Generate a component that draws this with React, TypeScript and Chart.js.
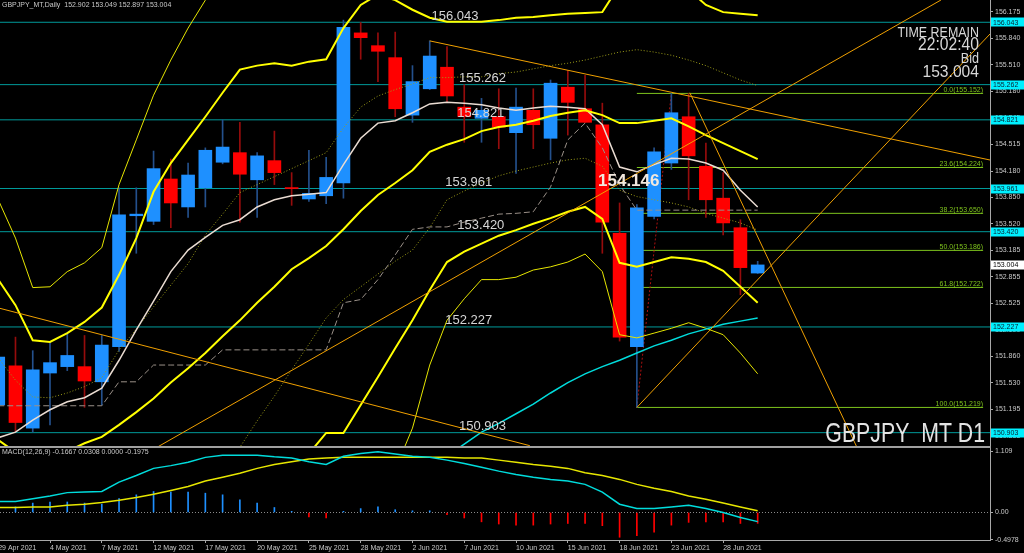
import React, { useEffect, useRef } from "react";
import { Chart, registerables } from "chart.js";

Chart.register(...registerables);

const FONT = '"Liberation Sans", Arial, sans-serif';

// ---- axis ranges (bar index / price) ----
const X_MIN = 0.103;
const X_MAX = 57.46;
const Y_MIN = 150.736;
const Y_MAX = 156.322;
const MACD_MIN = -0.5;
const MACD_MAX = 1.17;

// ---- x axis labels ----
const dateTickIdx = [0, 3, 6, 9, 12, 15, 18, 21, 24, 27, 30, 33, 36, 39, 42];
const dateLabels = [
  "29 Apr 2021", "4 May 2021", "7 May 2021", "12 May 2021", "17 May 2021",
  "20 May 2021", "25 May 2021", "28 May 2021", "2 Jun 2021", "7 Jun 2021",
  "10 Jun 2021", "15 Jun 2021", "18 Jun 2021", "23 Jun 2021", "28 Jun 2021",
];

// ---- price axis ticks ----
const priceTicks = [
  156.175, 155.84, 155.51, 155.18, 154.845, 154.515, 154.18, 153.85, 153.52,
  153.185, 152.855, 152.525, 152.19, 151.86, 151.53, 151.195, 150.865,
];

// ---- OHLC (29 Apr 2021 .. 30 Jun 2021) ----
const opens = [
  151.25, 151.74, 150.96, 151.65, 151.73, 151.73, 151.54, 151.98, 153.62, 153.55,
  154.08, 153.73, 153.97, 154.29, 154.41, 154.07, 154.31, 153.97, 153.83, 153.87,
  154.03, 155.91, 155.75, 155.6, 154.88, 155.21, 155.48, 154.98, 154.84, 154.86,
  154.66, 154.94, 154.59, 155.23, 154.96, 154.76, 153.4, 151.98, 153.61, 154.28,
  154.86, 154.24, 153.84, 153.47, 152.902,
];
const highs = [
  151.95, 152.1, 151.93, 152.03, 152.15, 152.12, 152.12, 153.97, 153.97, 154.43,
  154.33, 154.28, 154.47, 154.82, 154.79, 154.41, 154.68, 154.16, 154.44, 154.35,
  156.07, 156.04, 155.91, 155.92, 155.5, 155.81, 155.74, 155.26, 155.09, 155.21,
  155.22, 155.21, 155.32, 155.44, 155.38, 155.03, 153.78, 153.76, 154.47, 155.152,
  155.15, 154.53, 154.16, 153.57, 153.049,
];
const lows = [
  151.15, 150.92, 150.91, 151.0, 151.68, 151.22, 151.25, 151.92, 153.15, 153.51,
  153.47, 153.6, 153.73, 154.27, 153.54, 153.6, 154.01, 153.75, 153.8, 153.77,
  153.84, 155.58, 155.3, 154.86, 154.79, 155.2, 155.05, 154.54, 154.54, 154.46,
  154.15, 154.46, 154.32, 154.63, 154.79, 153.15, 152.05, 151.219, 153.58, 154.2,
  153.82, 153.6, 153.38, 152.63, 152.897,
];
const closes = [
  151.85, 151.03, 151.69, 151.78, 151.87, 151.55, 152.0, 153.63, 153.64, 154.21,
  153.78, 154.13, 154.44, 154.48, 154.14, 154.37, 154.16, 153.96, 153.9, 154.1,
  155.98, 155.85, 155.68, 154.96, 155.3, 155.62, 155.12, 154.86, 154.94, 154.73,
  154.98, 154.76, 155.28, 155.04, 154.79, 153.54, 152.1, 153.72, 154.42, 154.91,
  154.37, 153.82, 153.53, 152.97, 153.004,
];

// ---- Bollinger bands ----
const bbUpperOuter = [
  153.82, 153.34, 152.72, 152.73, 152.92, 153.03, 153.22, 154.01, 154.57, 155.13,
  155.57, 155.97, 156.32, 156.7, null, null, null, null, null, null,
  null, null, null, null, null, null, null, null, null, null,
  null, null, null, null, null, null, null, null, null, null,
  null, null, null, null, null,
];
const bbUpperInner = [
  152.82, 152.5, 152.06, 152.04, 152.15, 152.29, 152.47, 152.88, 153.34, 153.92,
  154.28, 154.57, 154.86, 155.16, 155.45, 155.5, 155.53, 155.5, 155.55, 155.58,
  155.97, 156.26, 156.39, 156.32, 156.2, 156.1, 156.05, 156.05, 156.05, 156.07,
  156.1, 156.11, 156.13, 156.15, 156.16, 156.17, 156.51, 156.57, 156.57, 156.57,
  156.45, 156.26, 156.17, 156.15, 156.13,
];
const bbMiddle = [
  150.81, 150.66, 150.59, 150.61, 150.67, 150.77, 150.85, 151.0, 151.16, 151.33,
  151.53, 151.71, 151.9, 152.11, 152.31, 152.53, 152.73, 152.95, 153.09, 153.24,
  153.45, 153.68, 153.88, 154.03, 154.19, 154.42, 154.51, 154.58, 154.68, 154.73,
  154.76, 154.81, 154.87, 154.91, 154.94, 154.88, 154.78, 154.78, 154.81, 154.84,
  154.74, 154.63, 154.53, 154.43, 154.33,
];
const bbLowerInner = [
  null, null, null, null, null, null, null, null, null, null,
  null, null, null, null, null, null, 149.9, 150.39, 150.64, 150.9,
  150.9, 151.25, 151.6, 151.96, 152.31, 152.69, 153.04, 153.17, 153.27, 153.37,
  153.44, 153.52, 153.59, 153.67, 153.73, 153.58, 153.03, 152.98, 153.04, 153.1,
  153.08, 153.04, 152.93, 152.73, 152.53,
];
const bbLowerOuter = [
  null, null, null, null, null, null, null, null, null, null,
  null, null, null, null, null, null, null, null, null, null,
  null, null, 149.9, 150.44, 150.96, 151.75, 152.31, 152.58, 152.82, 152.82,
  152.85, 152.94, 152.98, 153.04, 153.14, 152.92, 152.13, 152.09, 152.15, 152.21,
  152.28, 152.21, 152.13, 151.9, 151.64,
];

// ---- moving averages / other overlays ----
const maWhite = [
  150.84, 150.91, 151.06, 151.19, 151.29, 151.34, 151.46, 151.81, 152.19, 152.55,
  152.92, 153.19, 153.35, 153.5, 153.57, 153.73, 153.82, 153.87, 153.89, 153.91,
  154.26, 154.59, 154.78, 154.81, 154.91, 155.02, 155.04, 155.03, 155.01, 154.97,
  154.94, 154.97, 154.99, 154.98, 154.96, 154.76, 154.23, 154.17, 154.26, 154.34,
  154.33, 154.28, 154.19, 153.94, 153.73,
];
const maCyan = [
  null, null, null, null, null, null, null, null, null, null,
  null, null, null, null, null, null, null, null, null, null,
  null, null, null, null, null, null, 150.61, 150.76, 150.91, 151.02,
  151.14, 151.26, 151.4, 151.53, 151.64, 151.73, 151.81, 151.9, 151.99, 152.06,
  152.14, 152.2, 152.26, 152.3, 152.34,
];
const dottedFast = [
  151.84, 151.56, 151.35, 151.34, 151.4, 151.48, 151.59, 151.94, 152.2, 152.48,
  152.75, 153.02, 153.38, 153.64, 153.91, 154.01, 154.11, 154.21, 154.31, 154.41,
  154.72, 154.98, 155.12, 155.2, 155.27, 155.35, 155.35, 155.36, 155.36, 155.4,
  155.42, 155.46, 155.5, 155.53, 155.57, 155.62, 155.67, 155.7, 155.67, 155.63,
  155.57, 155.5, 155.41, 155.32, 155.25,
];
const dottedSlow = [
  null, null, null, null, null, null, null, null, null, null,
  null, null, null, 150.44, 150.72, 151.05, 151.36, 151.69, 152.01, 152.34,
  152.57, 152.73, 152.89, 153.05, 153.19, 153.47, 153.82, 153.93, 154.03, 154.12,
  154.18, 154.23, 154.28, 154.32, 154.34, 154.24, 153.94, 153.86, 153.82, 153.78,
  153.73, 153.65, 153.59, 153.53, 153.44,
];
const grayStep = [
  151.24, 151.24, 151.24, 151.24, 151.24, 151.24, 151.24, 151.54, 151.54, 151.75,
  151.75, 151.75, 151.75, 151.94, 151.94, 151.94, 151.94, 151.94, 151.94, 151.94,
  152.53, 152.57, 152.82, 153.13, 153.45, 153.48, 153.48, 153.54, 153.59, 153.64,
  153.65, 153.67, 153.98, 154.57, 154.78, 154.47, 154.01, 153.69, 153.69, 153.69,
  153.69, 153.69, 153.69, 153.69, 153.69,
];

// ---- horizontal levels ----
const levelPrices = [156.043, 155.262, 154.821, 153.961, 153.42, 152.227, 150.903];
const levelLabelBars = [25.1, 26.7, 26.6, 25.9, 26.6, 25.9, 26.7];
const bidPrice = 153.004;
const markPrice = 154.146;
const markBar = 34.75;

// ---- fibonacci ----
const fibLevels = [155.152, 154.224, 153.65, 153.186, 152.722, 151.219];
const fibNames = ["0.0", "23.6", "38.2", "50.0", "61.8", "100.0"];
const fibStartBar = 37;
const fibEndBar = 57.06;
const fibBaseX = [37, 39];
const fibBaseY = [151.219, 155.152];

// ---- trend lines (bar, price) ----
const trendX1 = [0.1, 9.2, 37, 25, 40.07];
const trendY1 = [152.46, 150.72, 151.219, 155.81, 155.16];
const trendX2 = [30.8, 54.62, 57.46, 57.46, 49.75];
const trendY2 = [150.74, 156.322, 155.896, 154.318, 150.72];

// ---- MACD ----
const macdLine = [
  0.2, 0.2, 0.25, 0.3, 0.36, 0.37, 0.38, 0.55, 0.67, 0.8,
  0.85, 0.91, 1.0, 1.04, 1.04, 1.04, 1.01, 0.99, 0.92, 0.87,
  1.02, 1.07, 1.1, 1.06, 1.02, 1.0, 0.95, 0.89, 0.82, 0.75,
  0.69, 0.64, 0.6, 0.57, 0.51, 0.37, 0.15, 0.07, 0.07, 0.1,
  0.13, 0.07, 0.0, -0.09, -0.1667,
];
const macdSignal = [
  0.09, 0.09, 0.1, 0.1, 0.13, 0.15, 0.18, 0.22, 0.27, 0.33,
  0.4, 0.47, 0.57, 0.64, 0.71, 0.8, 0.87, 0.92, 0.97, 0.99,
  1.0, 1.0, 1.0, 1.0, 1.0, 1.0, 1.0, 0.99, 0.99, 0.95,
  0.91, 0.87, 0.84, 0.8, 0.72, 0.67, 0.6, 0.51, 0.44, 0.38,
  0.3, 0.24, 0.17, 0.1, 0.0308,
];
const macdHist = [
  0.08, 0.1, 0.17, 0.19, 0.19, 0.17, 0.15, 0.25, 0.32, 0.38,
  0.37, 0.37, 0.35, 0.32, 0.23, 0.17, 0.09, 0.02, -0.08, -0.1,
  0.02, 0.07, 0.1, 0.05, 0.03, 0.03, -0.04, -0.1, -0.17, -0.21,
  -0.23, -0.23, -0.21, -0.2, -0.2, -0.24, -0.45, -0.42, -0.36, -0.23,
  -0.18, -0.17, -0.17, -0.2, -0.1975,
];
const macdTicks = [1.109, 0, -0.4978];
const macdTickLabels = ["1.109", "0.00", "-0.4978"];

// ---- colours ----
const BULL = "#1e90ff";
const BEAR = "#ff0000";
const BULL_WICK = "#24508c";
const BEAR_WICK = "#960c0c";
const LEVEL = "#009a9a";
const FIB = "#7ec31d";
const ORANGE = "#f0a000";
const AXIS = "#a8a8a8";
const TXT = "#c8c8c8";

const series = (arr: (number | null)[]) => arr.map((v, i) => ({ x: i, y: v }));

const lineDs = (data: any[], color: string, width: number, order: number, dash: number[] = []) => ({
  type: "line" as const,
  data,
  borderColor: color,
  borderWidth: width,
  borderDash: dash,
  pointRadius: 0,
  tension: 0,
  fill: false,
  spanGaps: false,
  order,
});

function drawScaledText(ctx: CanvasRenderingContext2D, text: string, xRight: number, yBase: number, font: string, sx: number, color: string) {
  ctx.save();
  ctx.font = font;
  ctx.fillStyle = color;
  ctx.textAlign = "right";
  ctx.textBaseline = "alphabetic";
  ctx.translate(xRight, yBase);
  ctx.scale(sx, 1);
  ctx.fillText(text, 0, 0);
  ctx.restore();
}

const mainOverlay = {
  id: "mainOverlay",
  afterDatasetsDraw(chart: any) {
    const { ctx } = chart;
    const xs = chart.scales.x;
    const ys = chart.scales.y;
    ctx.save();
    ctx.font = `13px ${FONT}`;
    ctx.fillStyle = "#d6d6d6";
    ctx.textAlign = "left";
    ctx.textBaseline = "alphabetic";
    levelPrices.forEach((p, k) => {
      ctx.fillText(p.toFixed(3), xs.getPixelForValue(levelLabelBars[k]), ys.getPixelForValue(p) - 2.5);
    });
    ctx.font = `7px ${FONT}`;
    ctx.fillStyle = FIB;
    ctx.textAlign = "right";
    fibLevels.forEach((p, k) => {
      ctx.fillText(`${fibNames[k]}(${p.toFixed(3)})`, xs.getPixelForValue(fibEndBar), ys.getPixelForValue(p) - 1.5);
    });
    ctx.font = `bold 17px ${FONT}`;
    ctx.fillStyle = "#f2e8de";
    ctx.textAlign = "left";
    ctx.textBaseline = "top";
    ctx.fillText(markPrice.toFixed(3), xs.getPixelForValue(markBar), ys.getPixelForValue(markPrice) - 1);
    ctx.restore();
  },
  afterDraw(chart: any) {
    const { ctx, chartArea } = chart;
    const ys = chart.scales.y;
    ctx.save();
    ctx.font = `7px ${FONT}`;
    ctx.textAlign = "left";
    ctx.textBaseline = "middle";
    levelPrices.forEach((p) => {
      const py = ys.getPixelForValue(p);
      ctx.fillStyle = "#00f0ff";
      ctx.fillRect(chartArea.right + 1, Math.round(py) - 4.5, 33, 9);
      ctx.fillStyle = "#0a2030";
      ctx.fillText(p.toFixed(3), chartArea.right + 3, py + 0.5);
    });
    const by = ys.getPixelForValue(bidPrice);
    ctx.fillStyle = "#ffffff";
    ctx.fillRect(chartArea.right + 1, Math.round(by) - 4.5, 33, 9);
    ctx.fillStyle = "#000000";
    ctx.fillText(bidPrice.toFixed(3), chartArea.right + 3, by + 0.5);

    ctx.font = `7px ${FONT}`;
    ctx.fillStyle = TXT;
    ctx.textAlign = "left";
    ctx.textBaseline = "top";
    ctx.fillText(
      `GBPJPY_MT,Daily  ${opens[44].toFixed(3)} ${highs[44].toFixed(3)} ${lows[44].toFixed(3)} ${closes[44].toFixed(3)}`,
      2, 2
    );
    ctx.restore();

    const rx = chartArea.right - 11;
    drawScaledText(ctx, "TIME REMAIN", rx, 37, `15px ${FONT}`, 0.83, "#d8d8d8");
    drawScaledText(ctx, "22:02:40", rx, 50, `18px ${FONT}`, 0.87, "#d8d8d8");
    drawScaledText(ctx, "Bid", rx, 63, `14px ${FONT}`, 0.9, "#d8d8d8");
    drawScaledText(ctx, bidPrice.toFixed(3), rx, 77, `17px ${FONT}`, 0.92, "#d8d8d8");
    drawScaledText(ctx, "GBPJPY_MT D1", chartArea.right - 5, 442, `28px ${FONT}`, 0.76, "#e4e4e4");
  },
};

const macdOverlay = {
  id: "macdOverlay",
  beforeDatasetsDraw(chart: any) {
    const { ctx, chartArea } = chart;
    const ys = chart.scales.y;
    ctx.save();
    ctx.strokeStyle = "#8a8a8a";
    ctx.lineWidth = 1;
    ctx.setLineDash([1, 2]);
    const zy = Math.round(ys.getPixelForValue(0)) + 0.5;
    ctx.beginPath();
    ctx.moveTo(chartArea.left, zy);
    ctx.lineTo(chartArea.right, zy);
    ctx.stroke();
    ctx.restore();
  },
  afterDraw(chart: any) {
    const { ctx, chartArea } = chart;
    ctx.save();
    ctx.fillStyle = "#a0a0a0";
    ctx.fillRect(0, 0, chartArea.right + 1, 2);
    ctx.font = `7px ${FONT}`;
    ctx.fillStyle = TXT;
    ctx.textAlign = "left";
    ctx.textBaseline = "top";
    ctx.fillText(
      `MACD(12,26,9) ${macdLine[44].toFixed(4)} ${macdSignal[44].toFixed(4)} 0.0000 ${macdHist[44].toFixed(4)}`,
      2, 3
    );
    ctx.restore();
  },
};

export default function App() {
  const mainRef = useRef<HTMLCanvasElement | null>(null);
  const macdRef = useRef<HTMLCanvasElement | null>(null);

  useEffect(() => {
    if (!mainRef.current || !macdRef.current) return;

    const levelDs = levelPrices.map((p) =>
      lineDs([{ x: X_MIN, y: p }, { x: X_MAX, y: p }], LEVEL, 1, 100)
    );
    const fibDs = fibLevels.map((p) =>
      lineDs([{ x: fibStartBar, y: p }, { x: fibEndBar, y: p }], FIB, 1, 99)
    );
    const fibBase = lineDs(
      [{ x: fibBaseX[0], y: fibBaseY[0] }, { x: fibBaseX[1], y: fibBaseY[1] }],
      "#b01010", 1, 98, [2, 2]
    );
    const trendDs = trendX1.map((x1, k) =>
      lineDs([{ x: x1, y: trendY1[k] }, { x: trendX2[k], y: trendY2[k] }], ORANGE, 1, 10)
    );

    const wicks = {
      type: "bar" as const,
      data: lows.map((l, i) => ({ x: i, y: [l, highs[i]] })),
      backgroundColor: closes.map((c, i) => (c >= opens[i] ? BULL_WICK : BEAR_WICK)),
      barThickness: 1,
      grouped: false,
      borderWidth: 0,
      order: 90,
    };
    const bodies = {
      type: "bar" as const,
      data: opens.map((o, i) => ({ x: i, y: [o, closes[i]] })),
      backgroundColor: closes.map((c, i) => (c >= opens[i] ? BULL : BEAR)),
      barThickness: 13,
      minBarLength: 1,
      grouped: false,
      borderWidth: 0,
      order: 89,
    };

    const xScale = {
      type: "linear",
      min: X_MIN,
      max: X_MAX,
      offset: false,
    };

    const mainChart = new Chart(mainRef.current, {
      type: "line",
      data: {
        datasets: [
          ...levelDs,
          ...fibDs,
          fibBase,
          wicks as any,
          bodies as any,
          lineDs(series(bbUpperOuter), "#e6e600", 1, 80),
          lineDs(series(bbLowerOuter), "#e6e600", 1, 80),
          lineDs(series(dottedFast), "#9c9c18", 1, 79, [1, 2]),
          lineDs(series(dottedSlow), "#9c9c18", 1, 79, [1, 2]),
          lineDs(series(grayStep), "#9a9088", 1, 78, [6, 3]),
          lineDs(series(maWhite), "#eadcd2", 1.5, 77),
          lineDs(series(maCyan), "#00dcdc", 1.5, 76),
          lineDs(series(bbUpperInner), "#ffff00", 2, 75),
          lineDs(series(bbMiddle), "#ffff00", 2, 75),
          lineDs(series(bbLowerInner), "#ffff00", 2, 75),
          ...trendDs,
        ],
      },
      options: {
        responsive: false,
        maintainAspectRatio: false,
        animation: false,
        events: [],
        layout: { padding: 0 },
        plugins: { legend: { display: false }, tooltip: { enabled: false } },
        scales: {
          x: { ...xScale, display: false, grid: { offset: false } },
          y: {
            type: "linear",
            position: "right",
            min: Y_MIN,
            max: Y_MAX,
            afterBuildTicks: (s: any) => {
              s.ticks = priceTicks.map((v) => ({ value: v }));
            },
            afterFit: (s: any) => {
              s.width = 34;
              s.paddingTop = 0;
              s.paddingBottom = 0;
            },
            ticks: {
              color: TXT,
              font: { family: FONT, size: 7 },
              padding: 2,
              autoSkip: false,
              callback: (v: any) => Number(v).toFixed(3),
            },
            grid: { drawOnChartArea: false, drawTicks: true, tickLength: 3, color: AXIS },
            border: { display: true, color: AXIS, width: 1 },
          },
        },
      },
      plugins: [mainOverlay],
    } as any);

    const macdChart = new Chart(macdRef.current, {
      type: "line",
      data: {
        datasets: [
          {
            type: "bar",
            data: macdHist.map((v, i) => ({ x: i, y: v })),
            backgroundColor: macdHist.map((v) => (v >= 0 ? BULL : BEAR)),
            barThickness: 1,
            grouped: false,
            borderWidth: 0,
            order: 20,
          } as any,
          lineDs(series(macdSignal), "#e6e600", 1.5, 10),
          lineDs(series(macdLine), "#00dcdc", 1.5, 5),
        ],
      },
      options: {
        responsive: false,
        maintainAspectRatio: false,
        animation: false,
        events: [],
        layout: { padding: { top: 2, left: 0, right: 0, bottom: 0 } },
        plugins: { legend: { display: false }, tooltip: { enabled: false } },
        scales: {
          x: {
            ...xScale,
            position: "bottom",
            afterBuildTicks: (s: any) => {
              s.ticks = dateTickIdx.map((v) => ({ value: v }));
            },
            afterFit: (s: any) => {
              s.height = 13;
              s.paddingLeft = 0;
              s.paddingRight = 0;
            },
            ticks: {
              align: "start",
              color: TXT,
              font: { family: FONT, size: 7 },
              padding: 1,
              maxRotation: 0,
              minRotation: 0,
              autoSkip: false,
              callback: (_v: any, i: number) => dateLabels[i],
            },
            grid: { offset: false, drawOnChartArea: false, drawTicks: true, tickLength: 3, color: AXIS },
            border: { display: true, color: AXIS, width: 1 },
          },
          y: {
            type: "linear",
            position: "right",
            min: MACD_MIN,
            max: MACD_MAX,
            afterBuildTicks: (s: any) => {
              s.ticks = macdTicks.map((v) => ({ value: v }));
            },
            afterFit: (s: any) => {
              s.width = 34;
              s.paddingTop = 0;
              s.paddingBottom = 0;
            },
            ticks: {
              color: TXT,
              font: { family: FONT, size: 7 },
              padding: 2,
              autoSkip: false,
              callback: (_v: any, i: number) => macdTickLabels[i],
            },
            grid: { drawOnChartArea: false, drawTicks: true, tickLength: 3, color: AXIS },
            border: { display: true, color: AXIS, width: 1 },
          },
        },
      },
      plugins: [macdOverlay],
    } as any);

    return () => {
      mainChart.destroy();
      macdChart.destroy();
    };
  }, []);

  return (
    <div style={{ position: "absolute", left: 0, top: 0, width: 1024, height: 553, background: "#000", overflow: "hidden" }}>
      <canvas ref={mainRef} width={1024} height={446} style={{ position: "absolute", left: 0, top: 0 }} />
      <canvas ref={macdRef} width={1024} height={107} style={{ position: "absolute", left: 0, top: 446 }} />
    </div>
  );
}
